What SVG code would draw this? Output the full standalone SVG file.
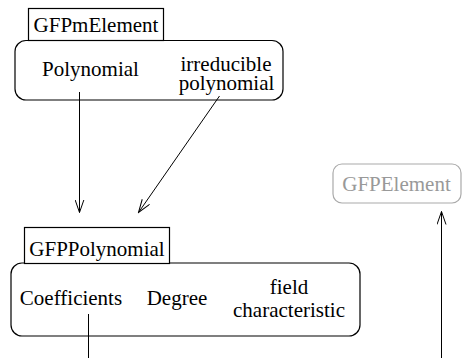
<svg xmlns="http://www.w3.org/2000/svg" width="462" height="358" viewBox="0 0 462 358">
<style>
.t{font-family:'Liberation Serif','Times New Roman',serif;font-size:21px;fill:#000;text-anchor:middle}
.box{fill:#fff;stroke:#000;stroke-width:1.2}
.grey{fill:#fff;stroke:#aaa;stroke-width:1.2}
.gt{fill:#999}
.c{stroke:#000;stroke-width:1;fill:none}
</style>
<defs>
<marker id="ah" viewBox="0 0 14 10" refX="13" refY="5" markerWidth="14" markerHeight="10" markerUnits="userSpaceOnUse" orient="auto">
<path d="M0,0.5 L13,5 L0,9.5" fill="none" stroke="#000" stroke-width="1"/>
</marker>
</defs>
<g id="GFPmElement">
<rect class="box" x="15" y="40.5" width="268" height="59.5" rx="11"/>
<rect class="box" x="28.5" y="8.5" width="135" height="32"/>
<text x="96" y="31.5" class="t">GFPmElement</text>
<text x="90.5" y="76" class="t">Polynomial</text>
<text x="226" y="70.5" class="t">irreducible</text>
<text x="226.5" y="90" class="t">polynomial</text>
</g>
<g id="GFPPolynomial">
<rect class="box" x="11" y="263" width="349" height="73" rx="11"/>
<rect class="box" x="24.5" y="227.5" width="145" height="36"/>
<text x="97" y="256" class="t">GFPPolynomial</text>
<text x="71" y="305" class="t">Coefficients</text>
<text x="177" y="305" class="t">Degree</text>
<text x="289" y="294" class="t">field</text>
<text x="289" y="316.5" class="t">characteristic</text>
</g>
<g id="GFPElement">
<rect class="grey" x="333" y="164" width="128" height="39" rx="9"/>
<text x="396.5" y="191" class="t gt">GFPElement</text>
</g>
<g id="connectors">
<line class="c" x1="79.5" y1="92" x2="79.5" y2="212.5" marker-end="url(#ah)"/>
<line class="c" x1="219.5" y1="96" x2="138.5" y2="212.5" marker-end="url(#ah)"/>
<line class="c" x1="88.5" y1="314" x2="88.5" y2="358"/>
<line class="c" x1="441.5" y1="358" x2="441.5" y2="211.5" marker-end="url(#ah)"/>
</g>
</svg>
